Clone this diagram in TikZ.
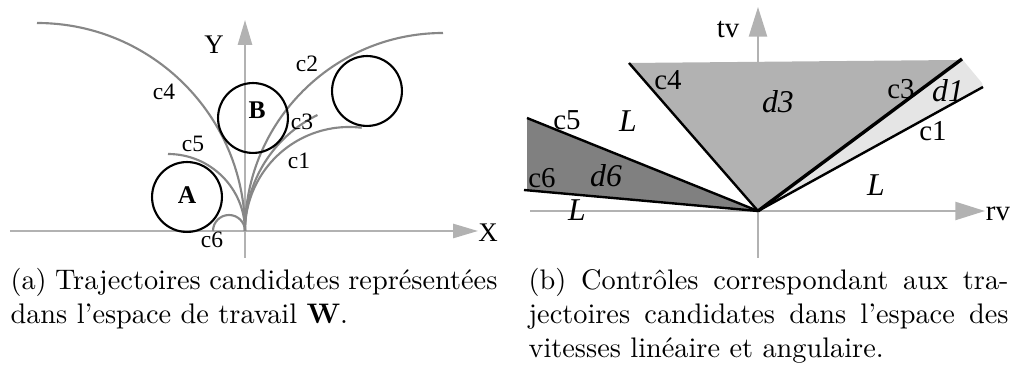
\documentclass[tikz,border=0pt]{standalone}
\usepackage{fontspec}
\newfontfamily\tms{Liberation Serif}
\usetikzlibrary{arrows.meta}
\definecolor{axisgray}{gray}{0.70}
\definecolor{curvegray}{gray}{0.53}
\definecolor{dthree}{gray}{0.70}
\definecolor{done}{gray}{0.90}
\definecolor{dsix}{gray}{0.50}
\begin{document}
\begin{tikzpicture}[x=0.3533pt,y=0.3533pt,
  axisL/.style={draw=axisgray,line width=0.75pt,-{Triangle[length=8.8pt,width=5pt]}},
  axisR/.style={draw=axisgray,line width=0.75pt,-{Triangle[length=10.5pt,width=6.4pt]}},
  curve/.style={draw=curvegray,line width=0.75pt},
  obst/.style={draw=black,line width=0.75pt,circle,minimum size=24.7pt,inner sep=0pt},
  lblL/.style={inner sep=0pt,font=\tms\fontsize{8.3}{9}\selectfont},
  lblAx/.style={inner sep=0pt,font=\tms\fontsize{9.5}{10}\selectfont},
  lblR/.style={inner sep=0pt,font=\tms\fontsize{10.2}{11}\selectfont},
  lblI/.style={inner sep=0pt,font=\tms\itshape\fontsize{11.2}{12}\selectfont},
  cline/.style={draw=black,line width=0.85pt},
  captxt/.style={inner sep=0pt,anchor=base west,font=\fontsize{10}{12}\selectfont}
]
\useasboundingbox (0,0) rectangle (1017,369);
% ---------- left panel ----------
\coordinate (O1) at (245,138);
\coordinate (xs) at (10,138); \coordinate (xe) at (478,138);
\coordinate (ys) at (245,111); \coordinate (ye) at (245,349);
\draw[axisL] (xs) -- (xe);
\draw[axisL] (ys) -- (ye);
\draw[curve] (O1) arc[start angle=0,end angle=90,radius=208];
\draw[curve] (O1) arc[start angle=180,end angle=90,radius=198];
\draw[curve] (O1) arc[start angle=180,end angle=116,radius=129];
\draw[curve] (O1) arc[start angle=180,end angle=83,radius=104];
\draw[curve] (O1) arc[start angle=0,end angle=90,radius=77];
\draw[curve] (O1) arc[start angle=0,end angle=180,radius=16];
\node[obst,font=\tms\bfseries\fontsize{9}{10}\selectfont] (A) at (187,172) {\raisebox{1pt}{A}};
\node[obst] (B) at (253,251) {};
\node[inner sep=0pt,font=\tms\bfseries\fontsize{9}{10}\selectfont] (Blbl) at (257,259) {B};
\node[obst] (C) at (367,278) {};
\node[lblAx] (Ylbl) at (214,324) {Y};
\node[lblAx] (Xlbl) at (488,136) {X};
\node[lblL] (c4L) at (164,277) {c4};
\node[lblL] (c2L) at (307,305) {c2};
\node[lblL] (c3L) at (302,247) {c3};
\node[lblL] (c1L) at (299,208) {c1};
\node[lblL] (c5L) at (193,225) {c5};
\node[lblL] (c6L) at (212,129) {c6};
% ---------- right panel ----------
\coordinate (O2) at (758,158);
\coordinate (rs) at (530,158); \coordinate (re) at (985,158);
\coordinate (ts) at (758,111); \coordinate (te) at (758,362);
\draw[axisR] (rs) -- (re);
\draw[axisR] (ts) -- (te);
\coordinate (c4e) at (629,306);
\coordinate (d3c) at (957,309);
\coordinate (c3e) at (962,310);
\coordinate (d1c) at (982,286);
\coordinate (c1e) at (983,282);
\coordinate (c5e) at (527,251);
\coordinate (d6c) at (527,179);
\coordinate (c6e) at (524,179);
\fill[dthree] (O2) -- (c4e) -- (d3c) -- (c3e) -- cycle;
\fill[done] (O2) -- (c3e) -- (d1c) -- (c1e) -- cycle;
\fill[dsix] (O2) -- (c5e) -- (d6c) -- cycle;
\draw[cline] (O2) -- (c4e);
\draw[cline,line width=1.2pt] (O2) -- (c3e);
\draw[cline] (O2) -- (c1e);
\draw[cline] (O2) -- (c5e);
\draw[cline] (O2) -- (c6e);
\node[lblR] (tvL) at (728,339) {tv};
\node[lblR] (rvL) at (998,155) {rv};
\node[lblR] (c4R) at (668,289) {c4};
\node[lblR] (c3R) at (901,280) {c3};
\node[lblR] (c1R) at (933,238) {c1};
\node[lblR] (c5R) at (567,249) {c5};
\node[lblR] (c6R) at (542,191) {c6};
\node[lblI] (d3R) at (778,267) {d3};
\node[lblI] (d1R) at (948,278) {d1};
\node[lblI] (d6R) at (606,193) {d6};
\node[lblI] (L1) at (628,248) {L};
\node[lblI] (L2) at (876,184) {L};
\node[lblI] (L3) at (577,159) {L};
% ---------- captions ----------
\node[captxt] (capA) at (10,79) {\parbox[t]{172pt}{\raggedright (a) Trajectoires candidates représentées\\ dans l'espace de travail \textbf{W}.}};
\node[captxt] (capB) at (528,79) {\parbox[t]{169.6pt}{(b) Contrôles correspondant aux tra-\linebreak jectoires candidates dans l'espace des\linebreak vitesses linéaire et angulaire.}};
\end{tikzpicture}
\end{document}
